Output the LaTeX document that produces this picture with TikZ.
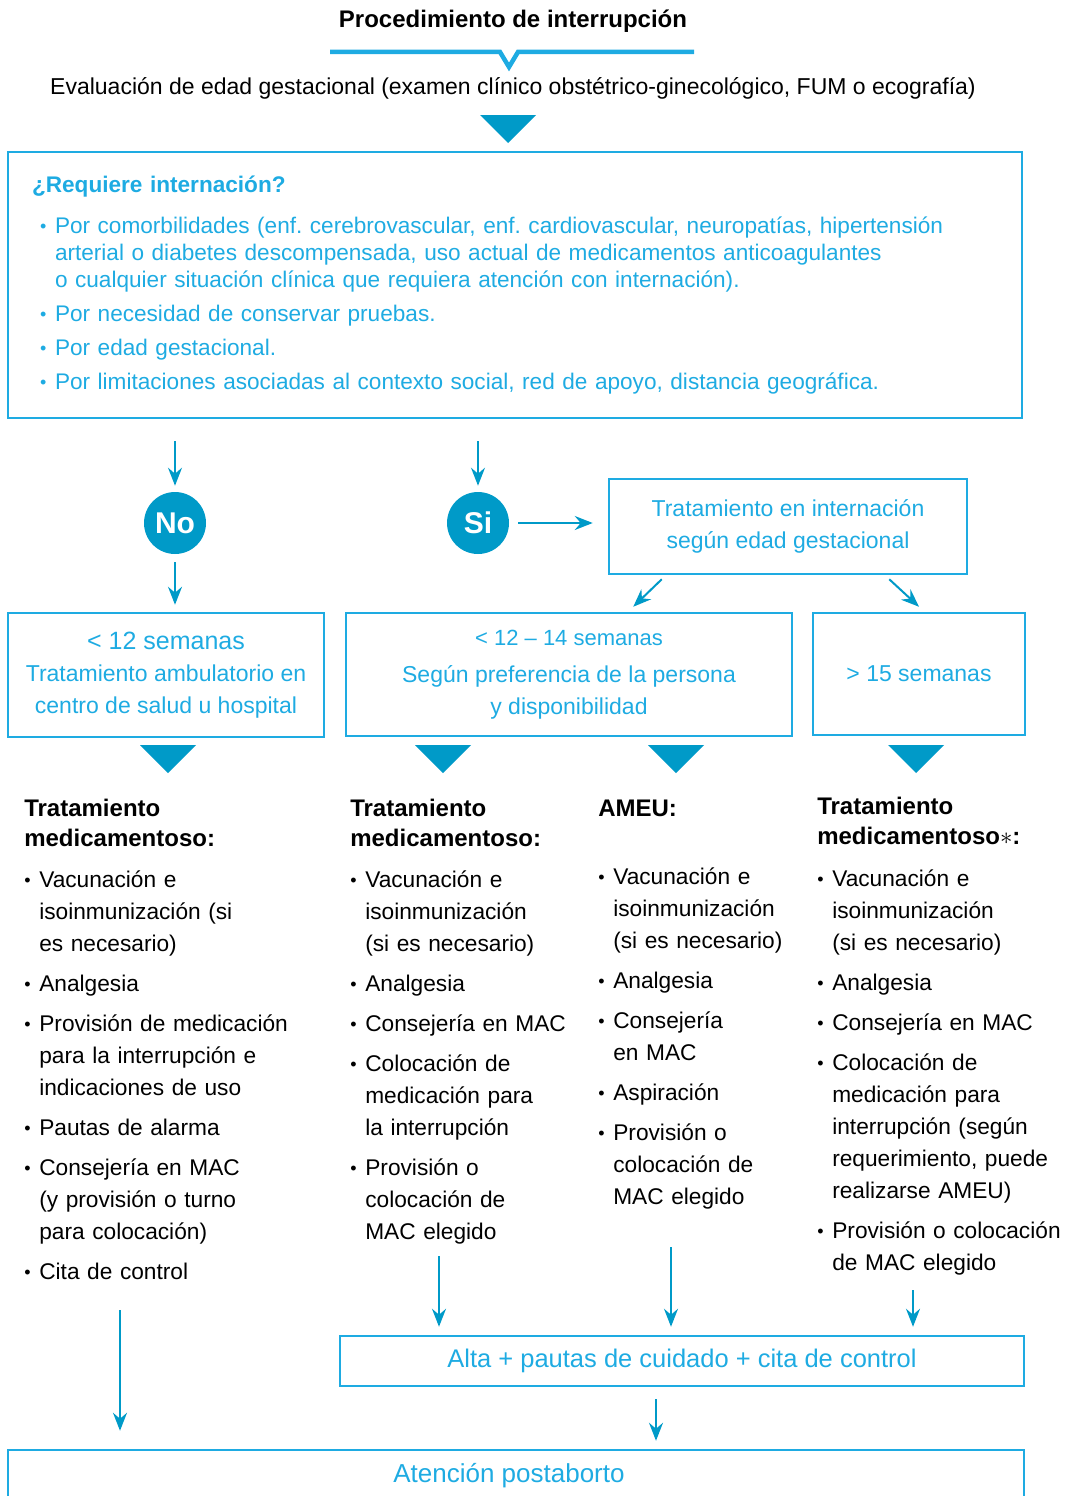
\documentclass[tikz,border=0pt]{standalone}
\usepackage{fontspec}
\setmainfont{Liberation Sans}
\usepackage{xcolor}
\usepackage{tikz}
\usetikzlibrary{arrows.meta}
\usetikzlibrary{calc}
\usetikzlibrary{positioning}

\definecolor{lineblue}{RGB}{30,171,226}
\definecolor{fillblue}{RGB}{0,154,200}

\newcommand{\itm}[1][0pt]{\noindent\hangindent=\dimexpr#1+15pt\relax\hangafter=1\hspace*{#1}\makebox[15pt][l]{\raisebox{1pt}{\fontsize{18}{18}\selectfont •}}}

\begin{document}
\frenchspacing
\begin{tikzpicture}[x=1pt, y=-1pt, semithick]
  \tikzstyle{frame}=[draw=lineblue, line width=2.5pt, text=lineblue, inner sep=0pt, font=\fontsize{23}{32}\selectfont]
  \tikzstyle{answer}=[circle, fill=fillblue, minimum size=62pt, inner sep=0pt, text=white, font=\fontsize{30}{30}\selectfont\bfseries]
  \tikzstyle{link}=[draw=fillblue, line width=2pt, -{Stealth[length=18pt, width=14pt, inset=6pt]}]
  \tikzstyle{head}=[anchor=base west, inner sep=0pt, text width=280pt, font=\fontsize{24}{30}\selectfont\bfseries]
  \tikzstyle{list}=[anchor=base west, inner sep=0pt, text width=280pt, font=\fontsize{22.7}{32}\selectfont, execute at begin node={\setlength{\parskip}{8pt}}]
\useasboundingbox (0,0) rectangle (1072,1496);

\node[font=\fontsize{24}{28}\selectfont\bfseries] (title) at (513,21) {Procedimiento de interrupción};
\draw[lineblue, line width=4.5pt] (330,52) -- (500,52) -- (509,67) -- (518,52) -- (694,52);
\node[font=\fontsize{23}{28}\selectfont] (eval) at (513,88) {Evaluación de edad gestacional (examen clínico obstétrico-ginecológico, FUM o ecografía)};
\fill[fillblue] (480,115) -- (536,115) -- (508,143) -- cycle;

\node[frame, text width=966pt, inner xsep=24pt, minimum height=266pt, font=\fontsize{22.6}{27}\selectfont, execute at begin node={\setlength{\parskip}{7pt}}] (ask) at (515,285) {{\bfseries ¿Requiere internación?}\par\vspace{7pt}
  \itm[8pt]Por comorbilidades (enf. cerebrovascular, enf. cardiovascular, neuropatías, hipertensión\newline arterial o diabetes descompensada, uso actual de medicamentos anticoagulantes\newline o cualquier situación clínica que requiera atención con internación).\par
  \itm[8pt]Por necesidad de conservar pruebas.\par
  \itm[8pt]Por edad gestacional.\par
  \itm[8pt]Por limitaciones asociadas al contexto social, red de apoyo, distancia geográfica.\par};

\node[answer] (no) at (175,523) {No};
\node[answer] (si) at (478,523) {Si};
\node[frame, minimum width=358pt, minimum height=95pt, align=center] (inpatient) at (788,526.5) {Tratamiento en internación\\según edad gestacional};

\node[frame, minimum width=316pt, minimum height=124pt, align=center] (early) at (166,675) {{\fontsize{25}{32}\selectfont < 12 semanas}\\Tratamiento ambulatorio en\\centro de salud u hospital};
\node[frame, minimum width=446pt, minimum height=123pt, align=center] (middle) at (569,674.5) {{\fontsize{22}{32}\selectfont < 12 – 14 semanas}\\[5pt]Según preferencia de la persona\\y disponibilidad};
\node[frame, minimum width=212pt, minimum height=122pt] (late) at (919,674) {> 15 semanas};

\draw[link, shorten <=22pt, shorten >=6pt] (ask.south -| no) -- (no);
\draw[link, shorten <=22pt, shorten >=6pt] (ask.south -| si) -- (si);
\draw[link, shorten <=9pt, shorten >=15pt] (si) -- (si -| inpatient.west);
\draw[link, shorten <=8pt, shorten >=7pt] (no) -- (no |- early.north);
\draw[link] ($(inpatient.south west)+(54,4)$) -- ($(middle.north east)+(-160,-5)$);
\draw[link] ($(inpatient.south east)+(-79,4)$) -- ($(late.north)+(0,-5)$);

\foreach \x in {168,443,676,916}
   \fill[fillblue] (\x-28,745) -- (\x+28,745) -- (\x,773) -- cycle;

\node[head] (head_a) at (24,816) {Tratamiento\\medicamentoso:};
\node[list] (list_a) at (24,887) {\itm Vacunación e\newline isoinmunización (si\newline es necesario)\par
  \itm Analgesia\par
  \itm Provisión de medicación\newline para la interrupción e\newline indicaciones de uso\par
  \itm Pautas de alarma\par
  \itm Consejería en MAC\newline (y provisión o turno\newline para colocación)\par
  \itm Cita de control\par};

\node[head] (head_b) at (350,816) {Tratamiento\\medicamentoso:};
\node[list] (list_b) at (350,887) {\itm Vacunación e\newline isoinmunización\newline (si es necesario)\par
  \itm Analgesia\par
  \itm Consejería en MAC\par
  \itm Colocación de\newline medicación para\newline la interrupción\par
  \itm Provisión o\newline colocación de\newline MAC elegido\par};

\node[head] (head_c) at (598,816) {AMEU:};
\node[list] (list_c) at (598,884) {\itm Vacunación e\newline isoinmunización\newline (si es necesario)\par
  \itm Analgesia\par
  \itm Consejería\newline en MAC\par
  \itm Aspiración\par
  \itm Provisión o\newline colocación de\newline MAC elegido\par};

\node[head] (head_d) at (817,814) {Tratamiento\\medicamentoso$\ast$:};
\node[list] (list_d) at (817,886) {\itm Vacunación e\newline isoinmunización\newline (si es necesario)\par
  \itm Analgesia\par
  \itm Consejería en MAC\par
  \itm Colocación de\newline medicación para\newline interrupción (según\newline requerimiento, puede\newline realizarse AMEU)\par
  \itm Provisión o colocación\newline de MAC elegido\par};

\node[frame, minimum width=684pt, minimum height=50pt, font=\fontsize{25.5}{30}\selectfont] (discharge) at (682,1361) {Alta + pautas de cuidado + cita de control};
\node[frame, minimum width=1016pt, minimum height=52pt, font=\fontsize{26}{30}\selectfont] (post) at (516,1476) {\hspace*{-14pt}Atención postaborto};

\coordinate (end_a) at (120,1310);
\coordinate (end_b) at (439,1256);
\coordinate (end_c) at (671,1247);
\coordinate (end_d) at (913,1290);
\draw[link, shorten >=18pt] (end_a) -- (end_a |- post.north);
\foreach \e in {b,c,d}
    \draw[link, shorten >=8pt] (end_\e) -- (end_\e |- discharge.north);
\coordinate (split) at ($(discharge.south)+(-26,0)$);
\draw[link, shorten <=12pt, shorten >=8pt] (split) -- (split |- post.north);
\end{tikzpicture}
\end{document}
